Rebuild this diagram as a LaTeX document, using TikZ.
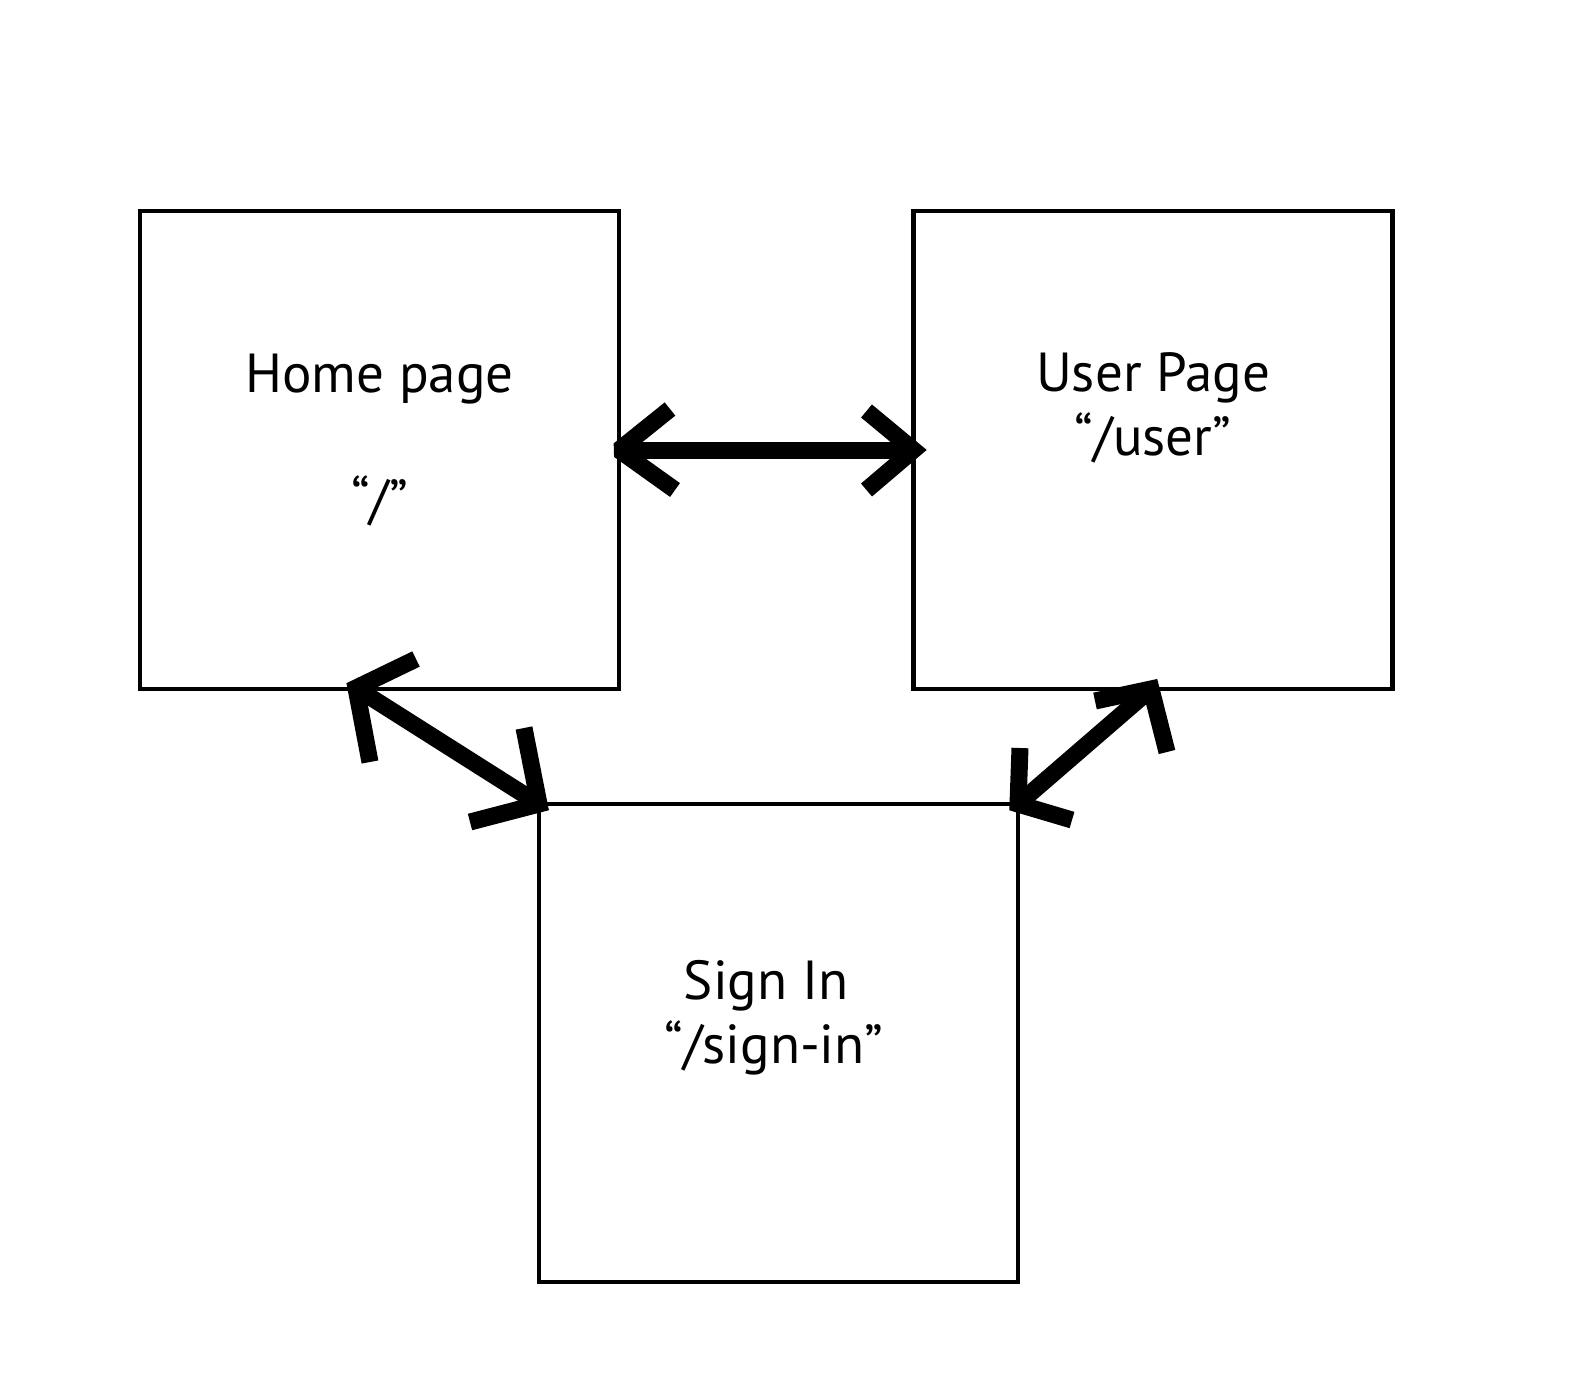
\documentclass[tikz,border=0pt]{standalone}
\usepackage{fontspec}
\setmainfont{PT Sans}
\usetikzlibrary{calc}
\begin{document}
\begin{tikzpicture}[x=1pt,y=-1pt,
  box/.style={draw=black,line width=4.5pt,outer sep=0pt,inner sep=0pt,
    minimum width=479pt,minimum height=478pt},
  lbl/.style={anchor=base,inner sep=0pt,font=\fontsize{55}{60}\selectfont},
  shaft/.style={line width=17pt,line cap=butt},
  barb/.style={line width=17pt,line cap=butt,line join=miter,miter limit=1.6}]
\useasboundingbox (0,0) rectangle (1572,1398);
\fill[white] (0,0) rectangle (1572,1398);
\node[box] (home) at (379.5,450) {};
\node[box] (user) at (1153,450) {};
\node[box] (sign) at (778.5,1043) {};
\node[lbl] (homet) at (379.5,392) {Home page};
\node[lbl] (homeu) at (379.5,518) {“/”};
\node[lbl] (usert) at (1153,391) {User Page};
\node[lbl] (useru) at (1153,455) {“/user”};
\node[lbl] (signt) at (766,999) {Sign In};
\node[lbl] (signu) at (774,1063) {“/sign-in”};
\coordinate (hs) at (356,688);
\coordinate (us) at (1151,689);
% home <-> user
\draw[shaft] (home.east) -- (user.west);
\draw[barb] ($(home.east)+(51,-41)$) -- (home.east) -- ++(56,40);
\draw[barb] ($(user.west)+(-47,-39)$) -- (user.west) -- ++(-47,40);
% home <-> sign in
\draw[shaft] (hs) -- (sign.north west);
\draw[barb] ($(hs)+(60,-29)$) -- (hs) -- ++(14,74);
\draw[barb] ($(sign.north west)+(-15,-76)$) -- (sign.north west) -- ++(-69,18);
% user <-> sign in
\draw[shaft] (us) -- (sign.north east);
\draw[barb] ($(us)+(-56,12)$) -- (us) -- ++(16,63);
\draw[barb] ($(sign.north east)+(2,-56)$) -- (sign.north east) -- ++(54,16);
\end{tikzpicture}
\end{document}
